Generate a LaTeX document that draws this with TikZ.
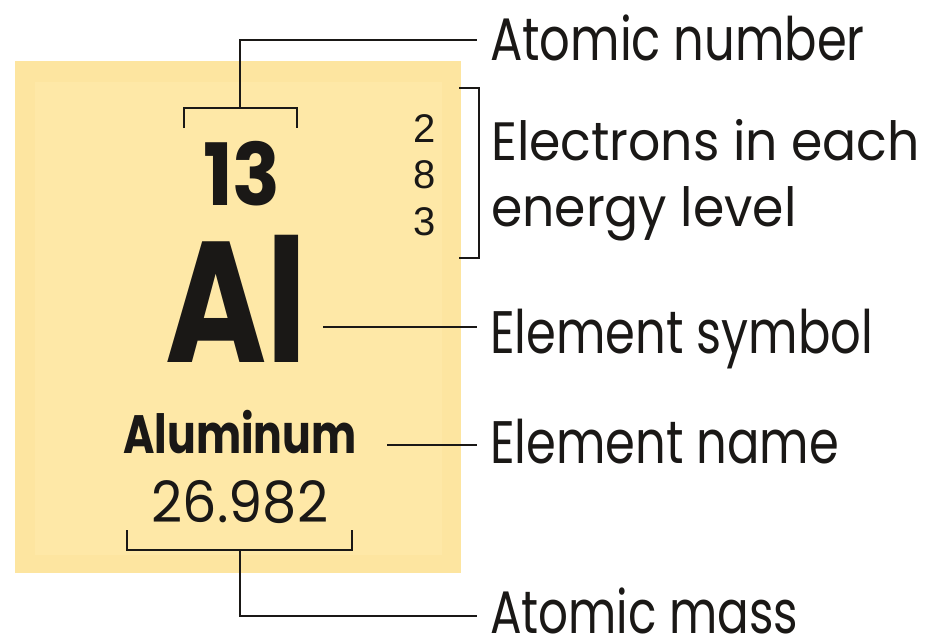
\documentclass[tikz,border=0pt]{standalone}
\usepackage{graphicx}
\usepackage{fontspec}
\setmainfont{Poppins}
\newfontfamily\helv{Liberation Sans}
\definecolor{boxout}{RGB}{253,229,160}
\definecolor{boxin}{RGB}{254,232,167}
\definecolor{ink}{RGB}{26,24,22}
\newcommand{\sx}[2]{\scalebox{#1}[1]{#2}}
\begin{document}
\begin{tikzpicture}[x=1pt,y=-1pt,line width=2.2pt,
  lab/.style={font=\fontsize{60}{60}\selectfont, text=ink, anchor=west, inner xsep=12pt, inner ysep=0pt, text depth=0pt},
  tight/.style={inner sep=0pt, text=ink},
  shell/.style={tight, font=\helv\fontsize{40}{40}\selectfont, anchor=base}]
\useasboundingbox (0,0) rectangle (926,638);
\fill[boxout] (15,61) rectangle (461,573);
\fill[boxin] (35,82) rectangle (442,555);
% element contents
\node[tight, font=\bfseries\fontsize{86}{86}\selectfont, anchor=base] (num) at (242,205) {\sx{0.92}{13}};
\node[shell] (e1) at (425,142) {2};
\node[shell] (e2) at (425,188) {8};
\node[shell] (e3) at (425,235) {3};
\node[tight, font=\bfseries\fontsize{172}{172}\selectfont, anchor=base] (sym) at (236,362) {\sx{0.8}{Al}};
\node[tight, font=\bfseries\fontsize{54}{54}\selectfont, anchor=base] (name) at (240,453) {\sx{0.79}{Aluminum}};
\node[tight, font=\fontsize{57}{57}\selectfont, anchor=base] (mass) at (240,522) {\sx{0.95}{26.982}};
% labels
\node[lab, text height=40pt] (lAN) at (477,40) {\sx{0.8}{Atomic number}};
\node[lab, text height=52pt] (lES) at (477,327) {\sx{0.8}{Element symbol}};
\node[lab, text height=36pt] (lEN) at (477,445) {\sx{0.8}{Element name}};
\node[lab, text height=34pt] (lAM) at (477,616) {\sx{0.78}{Atomic mass}};
\node[tight, font=\fontsize{54}{66}\selectfont, anchor=base west, align=left] (lEL) at (490,226) {\sx{0.935}{Electrons in each}\\\sx{0.935}{energy level}};
% connectors
\coordinate (tb) at (240,108);
\coordinate (symR) at (323,327);
\coordinate (nameR) at (387,445);
\coordinate (bb) at (240,550);
\draw[ink] (184,128) -- (184,108) -- (297,108) -- (297,128);
\draw[ink] (tb) |- (lAN.west);
\draw[ink] (symR) -- (lES.west);
\draw[ink] (nameR) -- (lEN.west);
\draw[ink] (127,530) -- (127,550) -- (352,550) -- (352,530);
\draw[ink] (bb) |- (lAM.west);
\draw[ink] (459,88) -- (479,88) -- (479,258) -- (459,258);
\end{tikzpicture}
\end{document}
